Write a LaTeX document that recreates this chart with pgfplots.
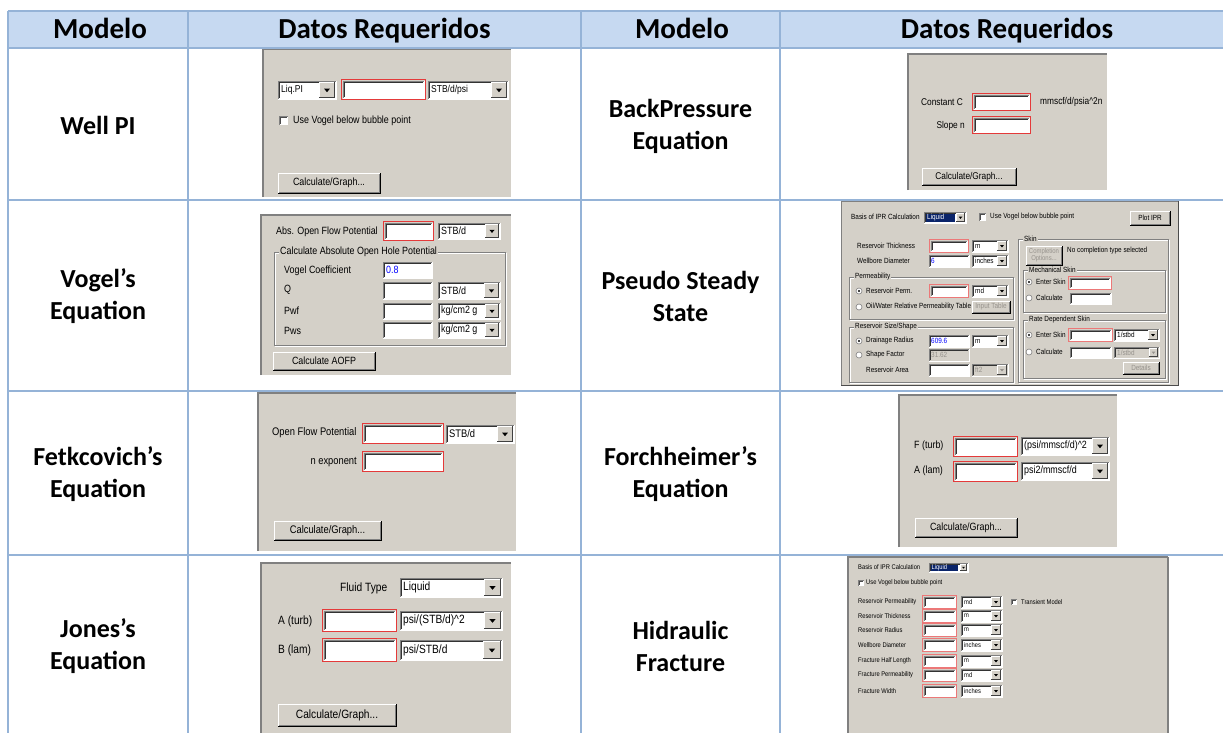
\documentclass[border=0pt]{standalone}
\usepackage{fontspec}
\setmainfont{Carlito}
\newfontfamily\ui[FakeStretch=0.85]{Liberation Sans}
\usepackage{pgfplots}
\pgfplotsset{compat=1.18}
\definecolor{hdr}{RGB}{198,217,241}
\definecolor{grid}{RGB}{149,179,215}
\definecolor{dlg}{RGB}{212,208,200}
\definecolor{dk}{RGB}{128,128,128}
\definecolor{redc}{RGB}{228,58,58}
\definecolor{redl}{RGB}{236,120,120}
\definecolor{navy}{RGB}{10,36,106}
\definecolor{dis}{RGB}{150,146,140}
\newcommand{\uf}[1]{\ui\fontsize{#1}{#1}\selectfont}
\newcommand{\hdrf}{\fontsize{29}{34}\selectfont\bfseries}
\newcommand{\bodyf}{\fontsize{26}{32}\selectfont\bfseries}
% dialog panel
\newcommand{\panel}[4]{\fill[dlg] ({#1},{#2}) rectangle ({#3},{#4});
 \draw[dk,line width=1.6pt] ({#1},{#4}) -- ({#1},{#2}) -- ({#3},{#2});}
% text field with fill colour
\newcommand{\tbc}[5]{\fill[#5] ({#1},{#2}) rectangle ({#3},{#4});
 \draw[dk,line width=0.7pt] ({#1},{#4}) -- ({#1},{#2}) -- ({#3},{#2});
 \draw[black!80,line width=0.6pt] ({(#1)+1},{(#4)-1}) -- ({(#1)+1},{(#2)+1}) -- ({(#3)-1},{(#2)+1});
 \draw[white,line width=0.6pt] ({#1},{#4}) -- ({#3},{#4}) -- ({#3},{#2});}
\newcommand{\tb}[4]{\tbc{#1}{#2}{#3}{#4}{white}}
% check box
\newcommand{\chk}[4]{\fill[white] ({#1},{#2}) rectangle ({#3},{#4});
 \draw[dk,line width=0.8pt] ({#1},{#4}) -- ({#1},{#2}) -- ({#3},{#2});
 \draw[black!70,line width=0.5pt] ({(#1)+0.9},{(#4)-0.9}) -- ({(#1)+0.9},{(#2)+0.9}) -- ({(#3)-0.9},{(#2)+0.9});}
% required (red) field
\newcommand{\rbc}[5]{\tb{(#1)+2}{(#2)+2}{(#3)-2}{(#4)-2}
 \draw[#5,line width=1.3pt] ({(#1)+0.6},{(#2)+0.6}) rectangle ({(#3)-0.6},{(#4)-0.6});}
\newcommand{\rb}[4]{\rbc{#1}{#2}{#3}{#4}{redc}}
\newcommand{\rbl}[4]{\rbc{#1}{#2}{#3}{#4}{redl}}
% combo box core: x1 y1 x2 y2 text size fill textcolour
\newcommand{\ddcore}[8]{\tbc{#1}{#2}{#3}{#4}{#7}
 \fill[dlg] ({(#3)-1-((#4)-(#2)-2)},{(#2)+1}) rectangle ({(#3)-1},{(#4)-1});
 \draw[white,line width=0.6pt] ({(#3)-1-((#4)-(#2)-2)},{(#4)-1.5}) -- ({(#3)-1-((#4)-(#2)-2)},{(#2)+1.3}) -- ({(#3)-1.5},{(#2)+1.3});
 \draw[black!75,line width=0.7pt] ({(#3)-1-((#4)-(#2)-2)},{(#4)-1.3}) -- ({(#3)-1.3},{(#4)-1.3}) -- ({(#3)-1.3},{(#2)+1});
 \fill[#8] ({(#3)-1-((#4)-(#2)-2)/2-((#4)-(#2))*0.16},{((#2)+(#4))/2-((#4)-(#2))*0.07}) -- ({(#3)-1-((#4)-(#2)-2)/2+((#4)-(#2))*0.16},{((#2)+(#4))/2-((#4)-(#2))*0.07}) -- ({(#3)-1-((#4)-(#2)-2)/2},{((#2)+(#4))/2+((#4)-(#2))*0.12}) -- cycle;
 \node[anchor=west,inner sep=0,font=\uf{#6},text=#8] at ({(#1)+3},{((#2)+(#4))/2}) {#5};}
\newcommand{\dd}[6]{\ddcore{#1}{#2}{#3}{#4}{#5}{#6}{white}{black}}
\newcommand{\ddoff}[6]{\ddcore{#1}{#2}{#3}{#4}{#5}{#6}{dlg}{dis}}
% button
\newcommand{\btnc}[7]{\fill[dlg] ({#1},{#2}) rectangle ({#3},{#4});
 \draw[white,line width=0.8pt] ({#1},{#4}) -- ({#1},{#2}) -- ({#3},{#2});
 \draw[black,line width=0.8pt] ({#1},{#4}) -- ({#3},{#4}) -- ({#3},{#2});
 \draw[dk,line width=0.7pt] ({(#1)+1},{(#4)-1}) -- ({(#3)-1},{(#4)-1}) -- ({(#3)-1},{(#2)+1});
 \node[font=\uf{#6},text=#7,inner sep=0,align=center] at ({((#1)+(#3))/2},{((#2)+(#4))/2}) {#5};}
\newcommand{\btn}[6]{\btnc{#1}{#2}{#3}{#4}{#5}{#6}{black}}
\newcommand{\btnoff}[6]{\btnc{#1}{#2}{#3}{#4}{#5}{#6}{dis}}
% labels
\newcommand{\labc}[5]{\node[anchor=west,inner sep=0,font=\uf{#4},text=#5] at ({#1},{#2}) {#3};}
\newcommand{\lab}[4]{\labc{#1}{#2}{#3}{#4}{black}}
\newcommand{\labr}[4]{\node[anchor=east,inner sep=0,font=\uf{#4}] at ({#1},{#2}) {#3};}
% radio buttons
\newcommand{\radoff}[3]{\draw[dk,fill=white,line width=0.6pt] ({#1},{#2}) circle[radius=#3pt];}
\newcommand{\radon}[3]{\radoff{#1}{#2}{#3}\fill[black] ({#1},{#2}) circle[radius=0.4*#3pt];}
% group box
\newcommand{\grp}[6]{\draw[white,line width=0.6pt] ({(#1)+0.8},{(#2)+0.8}) rectangle ({(#3)+0.8},{(#4)+0.8});
 \draw[dk,line width=0.6pt] ({#1},{#2}) rectangle ({#3},{#4});
 \node[anchor=west,fill=dlg,inner xsep=1pt,inner ysep=0.5pt,font=\uf{#6}] at ({(#1)+5},{#2}) {#5};}
\begin{document}
\begin{tikzpicture}
\begin{axis}[width=1223pt,height=733pt,scale only axis,
  xmin=0,xmax=1223,ymin=0,ymax=733,y dir=reverse,hide axis,clip=true]
\addplot[draw=none] coordinates {(0,0) (1223,733)};
% ---- header ----
\fill[hdr] (8,11) rectangle (1223,48);
\node[font=\hdrf,anchor=base,inner sep=0] at (100,39) {Modelo};
\node[font=\hdrf,anchor=base,inner sep=0] at (384.5,39) {Datos Requeridos};
\node[font=\hdrf,anchor=base,inner sep=0] at (682,39) {Modelo};
\node[font=\hdrf,anchor=base,inner sep=0] at (1007,39) {Datos Requeridos};
% ---- model names ----
\node[font=\bodyf,align=center] at (98,125) {Well PI};
\node[font=\bodyf,align=center] at (98,296) {Vogel’s\\Equation};
\node[font=\bodyf,align=center] at (98,474) {Fetkcovich’s\\Equation};
\node[font=\bodyf,align=center] at (98,646) {Jones’s\\Equation};
\node[font=\bodyf,align=center] at (680.5,126) {BackPressure\\Equation};
\node[font=\bodyf,align=center] at (680.5,296) {Pseudo Steady\\State};
\node[font=\bodyf,align=center] at (680.5,474) {Forchheimer’s\\Equation};
\node[font=\bodyf,align=center] at (680.5,646) {Hidraulic\\Fracture};
% ---- Well PI ----
\panel{263}{49}{511}{197}
\dd{278}{81}{336}{99}{Liq.PI}{10}
\rb{341}{79}{426}{100}
\dd{428}{81}{508}{99}{STB/d/psi}{10}
\chk{279}{116}{288}{125}
\lab{293}{120.5}{Use Vogel below bubble point}{10.5}
\btn{278}{173}{380}{193}{Calculate/Graph...}{10.5}
% ---- BackPressure ----
\panel{908}{54}{1107}{190}
\labr{963}{102}{Constant C}{9.8}
\rb{972}{93}{1031}{111}
\lab{1040}{102}{mmscf/d/psia\textasciicircum 2n}{9.8}
\labr{965}{126}{Slope n}{9.8}
\rb{972}{116}{1031}{134}
\btn{922}{168}{1016}{185}{Calculate/Graph...}{9.8}
% ---- Vogel ----
\panel{261}{215}{511}{375}
\lab{276}{232}{Abs. Open Flow Potential}{10.5}
\rb{383}{221}{434}{241}
\dd{438}{223}{500}{239}{STB/d}{10.5}
\grp{274}{252}{505}{345}{Calculate Absolute Open Hole Potential}{10.5}
\lab{284}{271}{Vogel Coefficient}{10.5}
\tb{383}{262}{432}{278}
\labc{386}{270}{0.8}{10.5}{blue}
\lab{284}{290}{Q}{10.5}
\tb{383}{282}{432}{299}
\dd{438}{282}{500}{299}{STB/d}{10.5}
\lab{284}{311}{Pwf}{10.5}
\tb{383}{303}{432}{319}
\dd{438}{303}{500}{319}{kg/cm2 g}{10.5}
\lab{284}{331}{Pws}{10.5}
\tb{383}{322}{432}{338}
\dd{438}{322}{500}{338}{kg/cm2 g}{10.5}
\btn{273}{352}{375}{370}{Calculate AOFP}{10.5}
% ---- Pseudo Steady State ----
\fill[dlg] (841,201) rectangle (1178,385);
\draw[dk,line width=1pt] (841,385) -- (841,201) -- (1178,201);
\draw[black!70,line width=1pt] (841,385) -- (1178,385) -- (1178,201);
\lab{851}{217}{Basis of IPR Calculation}{7.5}
\dd{924}{212}{966}{223}{}{7.5}
\fill[navy] (925.5,213.5) rectangle (955,221.5);
\labc{927}{217.5}{Liquid}{7.5}{white}
\chk{979}{213.5}{986}{220.5}
\lab{990}{217}{Use Vogel below bubble point}{7.5}
\btn{1130}{211}{1170}{225}{Plot IPR}{7.5}
\lab{857}{246}{Reservoir Thickness}{7.5}
\rbl{929}{239}{969}{253}
\dd{972}{240}{1008}{252}{m}{7.5}
\lab{857}{261}{Wellbore Diameter}{7.5}
\tb{929}{255}{969}{267}
\labc{931}{261}{6}{7.5}{blue}
\dd{972}{255}{1008}{267}{inches}{7.5}
\grp{849}{277}{1013}{319}{Permeability}{7.5}
\radon{859}{291}{3}
\lab{866}{291}{Reservoir Perm.}{7.5}
\rbl{929}{284}{969}{298}
\dd{972}{285}{1008}{297}{md}{7.5}
\radoff{859}{307}{3}
\lab{866}{307}{Oil/Water Relative Permeability Table}{7.5}
\btnoff{972}{301}{1010}{313}{Input Table}{7.5}
\grp{849}{327}{1013}{382}{Reservoir Size/Shape}{7.5}
\radon{859}{341}{3}
\lab{866}{341}{Drainage Radius}{7.5}
\tb{929}{335}{969}{347}
\labc{931}{341}{609.6}{7.5}{blue}
\dd{972}{335}{1008}{347}{m}{7.5}
\radoff{859}{355}{3}
\lab{866}{355}{Shape Factor}{7.5}
\tbc{929}{349}{969}{361}{dlg}
\labc{931}{355}{31.62}{7.5}{dis}
\lab{866}{370}{Reservoir Area}{7.5}
\tb{929}{364}{969}{376}
\ddoff{972}{364}{1008}{376}{ft2}{7.5}
\grp{1018}{239}{1168}{382}{Skin}{7.5}
\btnoff{1026}{246}{1062}{265}{Completion\\Options...}{7}
\lab{1067}{251}{No completion type selected}{7.5}
\grp{1023}{270}{1165}{312}{Mechanical Skin}{7.5}
\radon{1029}{282}{3}
\lab{1036}{282}{Enter Skin}{7.5}
\rbl{1068}{276}{1112}{290}
\radoff{1029}{298}{3}
\lab{1036}{298}{Calculate}{7.5}
\tb{1070}{293}{1111}{304}
\grp{1023}{320}{1165}{378}{Rate Dependent Skin}{7.5}
\radon{1029}{335}{3}
\lab{1036}{335}{Enter Skin}{7.5}
\rbl{1068}{328}{1113}{342}
\dd{1114}{329}{1159}{341}{1/stbd}{7.5}
\radoff{1029}{352}{3}
\lab{1036}{352}{Calculate}{7.5}
\tb{1070}{347}{1111}{358}
\ddoff{1114}{347}{1159}{358}{1/stbd}{7.5}
\btnoff{1123}{362}{1159}{374}{Details}{7.5}
% ---- Fetkovich ----
\panel{258}{393}{516}{551}
\lab{272}{433}{Open Flow Potential}{11}
\rb{362}{423}{444}{444}
\dd{446}{425}{514}{443}{STB/d}{11}
\labr{357}{462}{n exponent}{11}
\rb{362}{451}{444}{472}
\btn{274}{521}{381}{540}{Calculate/Graph...}{11}
% ---- Forchheimer ----
\panel{899}{395}{1117}{547}
\lab{914}{446}{F (turb)}{10.5}
\rb{953}{436}{1018}{457}
\dd{1021}{437}{1109}{455}{(psi/mmscf/d)\textasciicircum 2}{10.5}
\lab{914}{471}{A (lam)}{10.5}
\rb{953}{461}{1018}{482}
\dd{1021}{462}{1109}{480}{psi2/mmscf/d}{10.5}
\btn{915}{518}{1017}{537}{Calculate/Graph...}{10.5}
% ---- Jones ----
\panel{261}{563}{511}{733}
\lab{340}{588}{Fluid Type}{12}
\dd{400}{578}{502}{597}{Liquid}{12}
\lab{278}{621}{A (turb)}{12}
\rb{322}{609}{397}{632}
\dd{400}{611}{502}{630}{psi/(STB/d)\textasciicircum 2}{12}
\lab{278}{650}{B (lam)}{12}
\rb{322}{638}{397}{662}
\dd{400}{640}{502}{660}{psi/STB/d}{12}
\btn{278}{704}{396}{726}{Calculate/Graph...}{12}
% ---- Hidraulic Fracture ----
\panel{848}{557}{1168}{733}
\draw[dk,line width=1.2pt] (1168,557) -- (1168,733);
\lab{858}{567}{Basis of IPR Calculation}{6.8}
\dd{929}{563}{968}{572}{}{6.8}
\fill[navy] (930.5,564.5) rectangle (958,570.5);
\labc{931.5}{567.5}{Liquid}{6.8}{white}
\chk{858}{580}{863.5}{585.5}
\lab{866}{582.5}{Use Vogel below bubble point}{6.8}
\lab{858}{602}{Reservoir Permeability}{6.8}
\rbl{922}{595}{957}{609}
\dd{961}{596}{1002}{608}{md}{6.8}
\chk{1011}{599}{1016.5}{604.5}
\lab{1021}{602}{Transient Model}{6.8}
\lab{858}{616}{Reservoir Thickness}{6.8}
\rbl{922}{609}{957}{623}
\dd{961}{610}{1002}{622}{m}{6.8}
\lab{858}{630}{Reservoir Radius}{6.8}
\rbl{922}{623}{957}{637}
\dd{961}{624}{1002}{636}{m}{6.8}
\lab{858}{645}{Wellbore Diameter}{6.8}
\rbl{922}{638}{957}{652}
\dd{961}{639}{1002}{651}{inches}{6.8}
\lab{858}{661}{Fracture Half Length}{6.8}
\rbl{922}{654}{957}{668}
\dd{961}{655}{1002}{667}{m}{6.8}
\lab{858}{675}{Fracture Permeability}{6.8}
\rbl{922}{668}{957}{682}
\dd{961}{669}{1002}{681}{md}{6.8}
\lab{858}{691}{Fracture Width}{6.8}
\rbl{922}{684}{957}{698}
\dd{961}{685}{1002}{697}{inches}{6.8}
% ---- grid lines ----
\draw[grid,line width=1.6pt] (8,11) -- (1223,11);
\draw[grid,line width=1.6pt] (8,48) -- (1223,48);
\draw[grid,line width=1.6pt] (8,200) -- (1223,200);
\draw[grid,line width=1.6pt] (8,391) -- (1223,391);
\draw[grid,line width=1.6pt] (8,555) -- (1223,555);
\draw[grid,line width=1.6pt] (8,11) -- (8,733);
\draw[grid,line width=1.6pt] (188,11) -- (188,733);
\draw[grid,line width=1.6pt] (581,11) -- (581,733);
\draw[grid,line width=1.6pt] (780,11) -- (780,733);
\end{axis}
\end{tikzpicture}
\end{document}
